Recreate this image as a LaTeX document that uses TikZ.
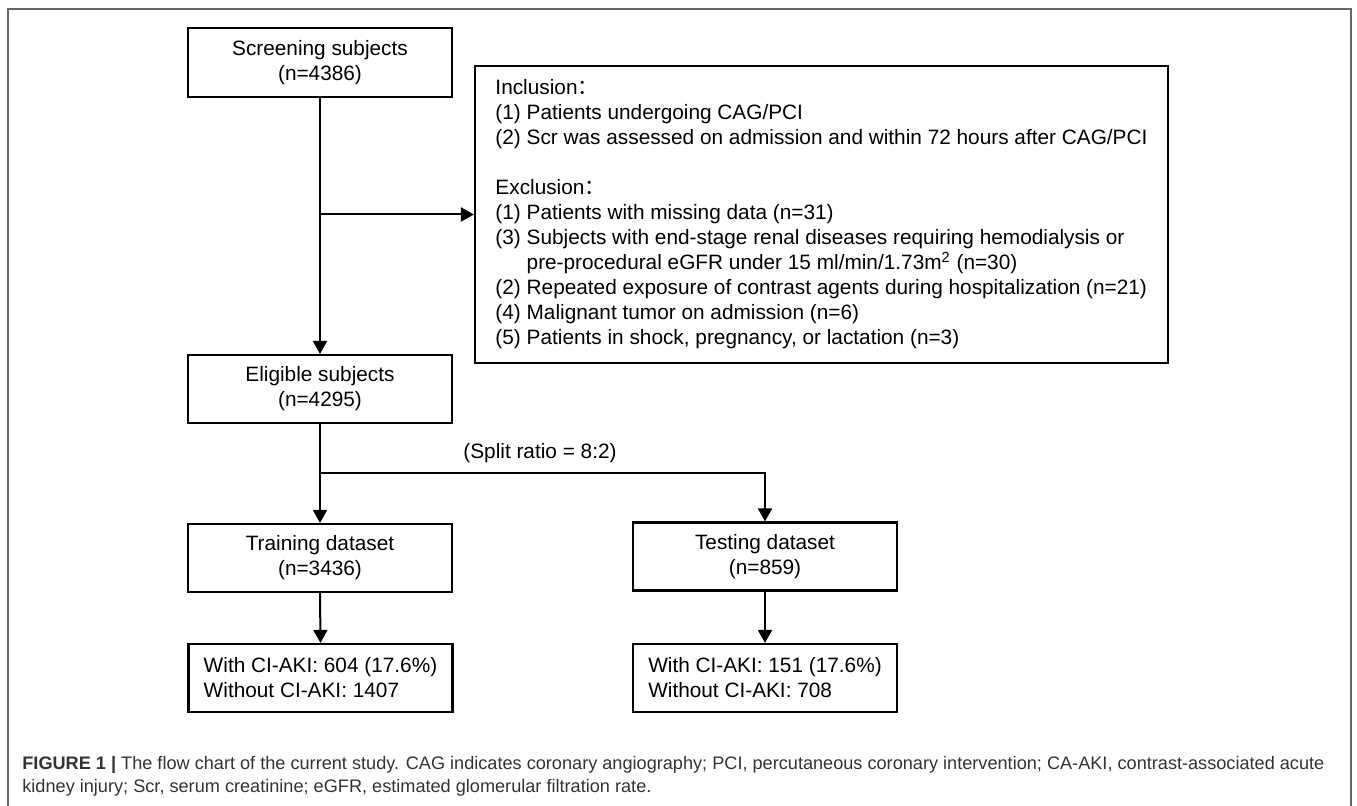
\documentclass[tikz,border=0pt]{standalone}
\usepackage{fontspec}
\setmainfont{Liberation Sans}
\newfontfamily\cjkfont{Noto Sans CJK SC}
\usetikzlibrary{arrows.meta}
\newcommand\diagfont{\fontsize{10.4}{12.5}\selectfont}
\newcommand\capfont{\fontsize{9.07}{11.5}\selectfont}
\begin{document}
\begin{tikzpicture}[x=0.5pt,y=-0.5pt,
  box/.style={draw, line width=1.05pt, rectangle, inner sep=0pt, align=center, font=\diagfont,
              minimum width=132pt, minimum height=34pt},
  conn/.style={line width=1pt, -{Triangle[length=6.5pt,width=7pt]}},
  frameline/.style={draw=black!60, line width=0.8pt},
  captext/.style={anchor=base west, inner sep=0pt, font=\capfont, text=black!80},
]
\useasboundingbox (0,0) rectangle (1357,806);
\draw[frameline] (8,806) -- (8,9) -- (1351,9) -- (1351,806);

\node[box, minimum height=34.5pt] (scr) at (320,62.5) {Screening subjects\\(n=4386)};
\node[box, align=left, minimum width=346.5pt, minimum height=148.5pt] (inc) at (821.5,214.5)
 {Inclusion{\cjkfont ：}\\
  (1) Patients undergoing CAG/PCI\\
  (2) Scr was assessed on admission and within 72 hours after CAG/PCI\\[12.5pt]
  Exclusion{\cjkfont ：}\\
  (1) Patients with missing data (n=31)\\
  (3) Subjects with end-stage renal diseases requiring hemodialysis or\\
  \hphantom{(3) }pre-procedural eGFR under 15 ml/min/1.73m\textsuperscript{2} (n=30)\\
  (2) Repeated exposure of contrast agents during hospitalization (n=21)\\
  (4) Malignant tumor on admission (n=6)\\
  (5) Patients in shock, pregnancy, or lactation (n=3)};
\node[box] (eli) at (320,389) {Eligible subjects\\(n=4295)};
\node[box] (tra) at (320,558) {Training dataset\\(n=3436)};
\node[box] (tes) at (765,556.5) {Testing dataset\\(n=859)};
\node[box, align=left] (trr) at (320.5,678) {With CI-AKI: 604 (17.6\%)\\Without CI-AKI: 1407};
\node[box, align=left] (ter) at (765,678) {With CI-AKI: 151 (17.6\%)\\Without CI-AKI: 708};

\node[font=\diagfont, inner sep=0pt] (split) at (540,453) {(Split ratio = 8:2)};

\coordinate (j1) at (scr.south |- inc.west);
\coordinate (j2) at (320,473);

\draw[conn] (scr.south) -- (eli.north);
\draw[conn] (j1) -- (inc.west);
\draw[conn] (eli.south) -- (tra.north);
\draw[conn] (j2) -| (tes.north);
\draw[conn] (tra.south) -- (trr.north);
\draw[conn] (tes.south) -- (ter.north);

\node[captext] (cap1) at (22,770) {\textbf{FIGURE 1 |} The flow chart of the current study. CAG indicates coronary angiography; PCI, percutaneous coronary intervention; CA-AKI, contrast-associated acute};
\node[captext] (cap2) at (22,793) {kidney injury; Scr, serum creatinine; eGFR, estimated glomerular filtration rate.};
\end{tikzpicture}
\end{document}
